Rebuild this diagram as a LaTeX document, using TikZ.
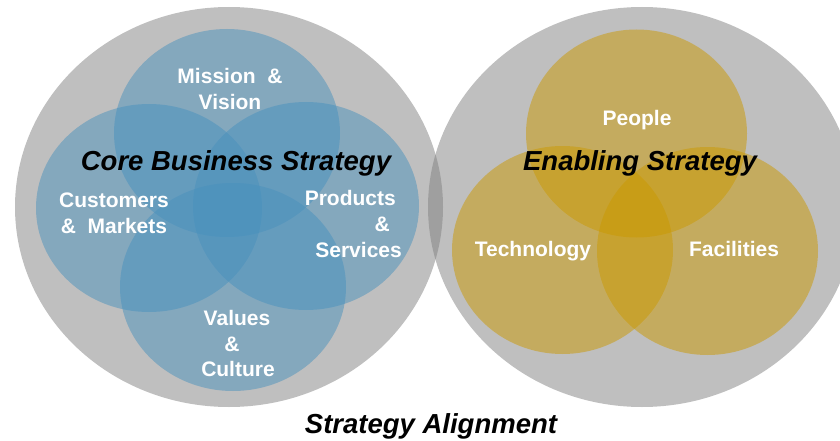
\documentclass[tikz,border=0pt]{standalone}
\usepackage{fontspec}
\setmainfont{Liberation Sans}
\definecolor{ringgray}{RGB}{127,127,127}
\definecolor{coreblue}{RGB}{73,145,189}
\definecolor{enablegold}{RGB}{203,153,1}
\begin{document}
\begin{tikzpicture}[x=1pt,y=-1pt,
  ring/.style={fill=ringgray,fill opacity=0.5},
  bluecirc/.style={fill=coreblue,fill opacity=0.5},
  goldcirc/.style={fill=enablegold,fill opacity=0.5},
  lbl/.style={inner sep=0pt,anchor=base,text=white,font=\fontsize{21}{26}\selectfont\bfseries},
  lble/.style={lbl,anchor=base east},
  ttl/.style={inner sep=0pt,anchor=base,text=black,font=\fontsize{27.5}{32}\selectfont\bfseries\itshape}]
\useasboundingbox (0,0) rectangle (840,441);
% outer gray rings
\fill[ring] (229,207) ellipse [x radius=214pt, y radius=200pt];
\fill[ring] (642,207) ellipse [x radius=214pt, y radius=200pt];
% core business circles
\fill[bluecirc] (227,133) ellipse [x radius=113pt, y radius=104pt];
\fill[bluecirc] (149,208) ellipse [x radius=113pt, y radius=104pt];
\fill[bluecirc] (306,206) ellipse [x radius=113pt, y radius=104pt];
\fill[bluecirc] (233,287) ellipse [x radius=113pt, y radius=104pt];
% enabling circles
\fill[goldcirc] (636.5,133.5) ellipse [x radius=110.5pt, y radius=104pt];
\fill[goldcirc] (562.5,250) ellipse [x radius=110.5pt, y radius=104pt];
\fill[goldcirc] (707.5,251) ellipse [x radius=110.5pt, y radius=104pt];
% labels
\node[lbl] (mission) at (230,84) {Mission~~\&};
\node[lbl] (vision) at (230,110) {Vision};
\node[lbl] (cust) at (114,207) {Customers};
\node[lbl] (mark) at (114,233) {\&~~Markets};
\node[lble] (prod) at (396,205) {Products};
\node[lble] (pamp) at (390,231) {\&};
\node[lble] (serv) at (402,257) {Services};
\node[lbl] (values) at (237,325) {Values};
\node[lbl] (vamp) at (232,351) {\&};
\node[lbl] (culture) at (238,376) {Culture};
\node[lbl] (people) at (637,125) {People};
\node[lbl] (tech) at (533,256) {Technology};
\node[lbl] (fac) at (734,256) {Facilities};
\node[ttl] (core) at (236,170) {Core Business Strategy};
\node[ttl] (enab) at (640,170) {Enabling Strategy};
\node[ttl] (align) at (431,433) {Strategy Alignment};
\end{tikzpicture}
\end{document}
